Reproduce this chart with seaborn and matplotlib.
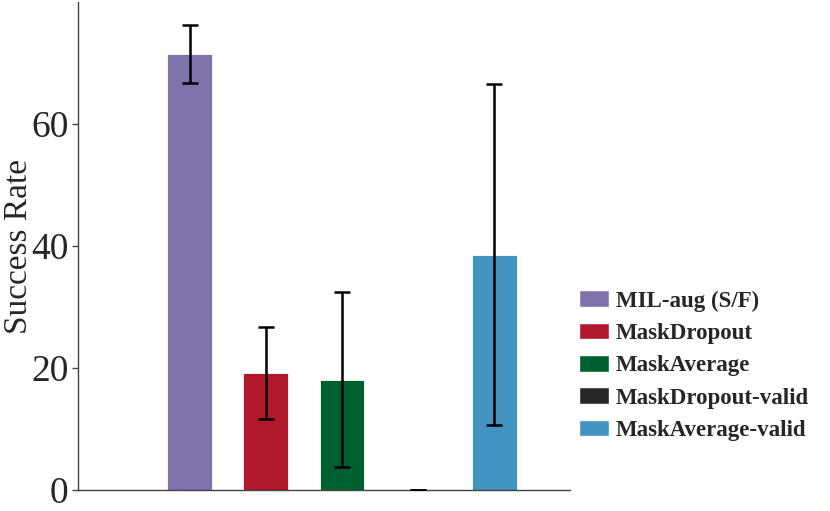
import pandas as pd
import matplotlib.pyplot as plt
import seaborn as sns
from matplotlib.patches import Patch

# Values
methods = ["MIL-aug (S/F)", "MaskDropout", "MaskAverage", "MaskDropout-valid", "MaskAverage-valid"]
success = [71.5, 19.2, 18.1, 0.0, 38.6]
err = [4.8, 7.6, 14.3, 0.0, 27.9]
colors = ["#8073ac", "#b2182b", "#005f30", "#262626", "#4393c3"]

df = pd.DataFrame({"method": methods, "success": success})

sns.set_style("white")
plt.rcParams["font.family"] = ["Liberation Serif", "DejaVu Serif"]

fig = plt.figure(figsize=(8.3, 5.11), dpi=100)
ax = fig.add_axes([0.094, 0.041, 0.593, 0.955])

sns.barplot(data=df, x="method", y="success", hue="method", palette=colors,
            order=methods, hue_order=methods, width=0.59, legend=False,
            edgecolor="white", linewidth=0.6, saturation=1, errorbar=None, ax=ax)
ax.errorbar(range(len(methods)), success, yerr=err, fmt="none", ecolor="black",
            elinewidth=1.8, capsize=5.5, capthick=1.8, zorder=5)

ax.set_xlim(-1.47, 5.0)
ax.set_ylim(0, 80)
ax.set_yticks([0, 20, 40, 60])
ax.set_xticks([])
ax.set_xlabel("")
ax.set_ylabel("Success Rate", fontsize=24)
ax.yaxis.set_label_coords(-0.09, 0.5)
ax.tick_params(axis="y", labelsize=27, length=4, width=1, color="#444444", pad=3, left=True)
sns.despine(ax=ax)
for s in ["left", "bottom"]:
    ax.spines[s].set_color("#444444")
    ax.spines[s].set_linewidth(1.0)

handles = [Patch(facecolor=c, edgecolor="white", label=m) for m, c in zip(methods, colors)]
ax.legend(handles=handles, loc="center left", bbox_to_anchor=(1.0, 0.255), frameon=False,
          prop={"weight": "bold", "size": 16.5}, handlelength=1.3, handleheight=0.75,
          labelspacing=0.48, handletextpad=0.3, borderaxespad=0)

plt.savefig("out.png", dpi=100)
